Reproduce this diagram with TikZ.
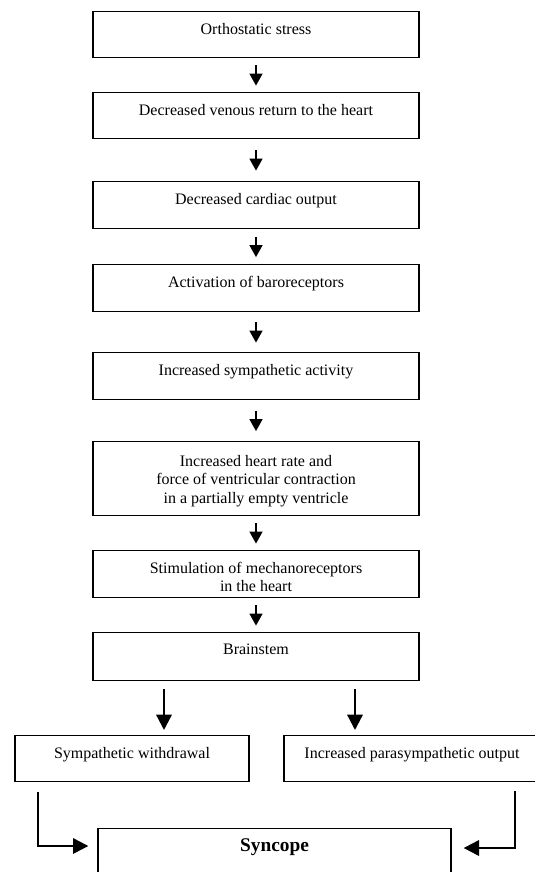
\documentclass[tikz,border=0pt]{standalone}
\usepackage{fontspec}
\setmainfont{Liberation Serif}
\usetikzlibrary{arrows.meta,calc}

\tikzset{every picture/.style={line width=0.75pt}}
\tikzset{
  box/.style={draw, line width=1pt, inner sep=0pt, minimum width=244.5pt, minimum height=34.5pt, anchor=north},
  txt/.style={anchor=north, inner sep=0pt, align=center, font=\fontsize{12}{14}\selectfont},
  flow/.style={line width=1.7pt, -{Triangle[width=9.5pt,length=9pt]}},
  bigflow/.style={line width=1.7pt, -{Triangle[width=11.5pt,length=11.5pt]}},
}

\begin{document}
\begin{tikzpicture}[x=0.75pt,y=0.75pt,yscale=-1,xscale=1]
\useasboundingbox (0,0) rectangle (535,872);
\clip (0,0) rectangle (535,872);

%Boxes of the main chain
\node[box] (b1) at (256,11) {};
\node[box] (b2) at (256,92) {};
\node[box, minimum height=35.25pt] (b3) at (256,181) {};
\node[box, minimum height=35.25pt] (b4) at (256,264) {};
\node[box, minimum height=35.25pt] (b5) at (256,352) {};
\node[box, minimum height=55.5pt] (b6) at (256,441) {};
\node[box, minimum height=35.25pt] (b7) at (256,550) {};
\node[box, minimum height=36pt] (b8) at (256,632) {};
%Branch boxes
\node[box, minimum width=175.5pt] (sw) at (132,735) {};
\node[box, minimum width=192pt] (ps) at (412,735) {};
\node[box, minimum width=264.75pt, minimum height=50pt] (syn) at (274.5,828) {};

% Text Nodes
\node[txt] (t1) at ($(b1.north)+(0,11.5)$) {Orthostatic stress};
\node[txt] (t2) at ($(b2.north)+(0,11.5)$) {Decreased venous return to the heart};
\node[txt] (t3) at ($(b3.north)+(0,11.5)$) {Decreased cardiac output};
\node[txt] (t4) at ($(b4.north)+(0,11.5)$) {Activation of baroreceptors};
\node[txt] (t5) at ($(b5.north)+(0,11.5)$) {Increased sympathetic activity};
\node[txt] (t6) at ($(b6.north)+(0,13.5)$) {Increased heart rate and\\force of ventricular contraction\\in a partially empty ventricle};
\node[txt] (t7) at ($(b7.north)+(0,11.5)$) {Stimulation of mechanoreceptors\\in the heart};
\node[txt] (t8) at ($(b8.north)+(0,11.5)$) {Brainstem};
\node[txt] (t9) at ($(sw.north)+(0,11.5)$) {Sympathetic withdrawal};
\node[txt] (t10) at ($(ps.north)+(0,11.5)$) {Increased parasympathetic output};
\node[txt, font=\fontsize{14.5}{17}\selectfont\bfseries] (t11) at ($(syn.north)+(0,10)$) {Syncope};

%Arrows down the chain
\foreach \a/\b in {b1/b2,b2/b3,b3/b4,b4/b5,b5/b6,b6/b7,b7/b8}
  \draw[flow] ($(\a.south)!0.5!(\b.north)+(0,-10)$) -- ($(\a.south)!0.5!(\b.north)+(0,10.5)$);

%Split below the brainstem
\draw[bigflow] ($(b8.south)+(-92,8)$) -- ($(sw.north)+(32,-5)$);
\draw[bigflow] ($(b8.south)+(99,8)$) -- ($(ps.north)+(-57,-5)$);

%Into syncope
\draw[bigflow] ($(sw.south west)+(24,10)$) |- ($(syn.north west)+(-9,18)$);
\draw[bigflow] ($(ps.south east)+(-26,9)$) |- ($(syn.north east)+(12,20)$);

\end{tikzpicture}
\end{document}
